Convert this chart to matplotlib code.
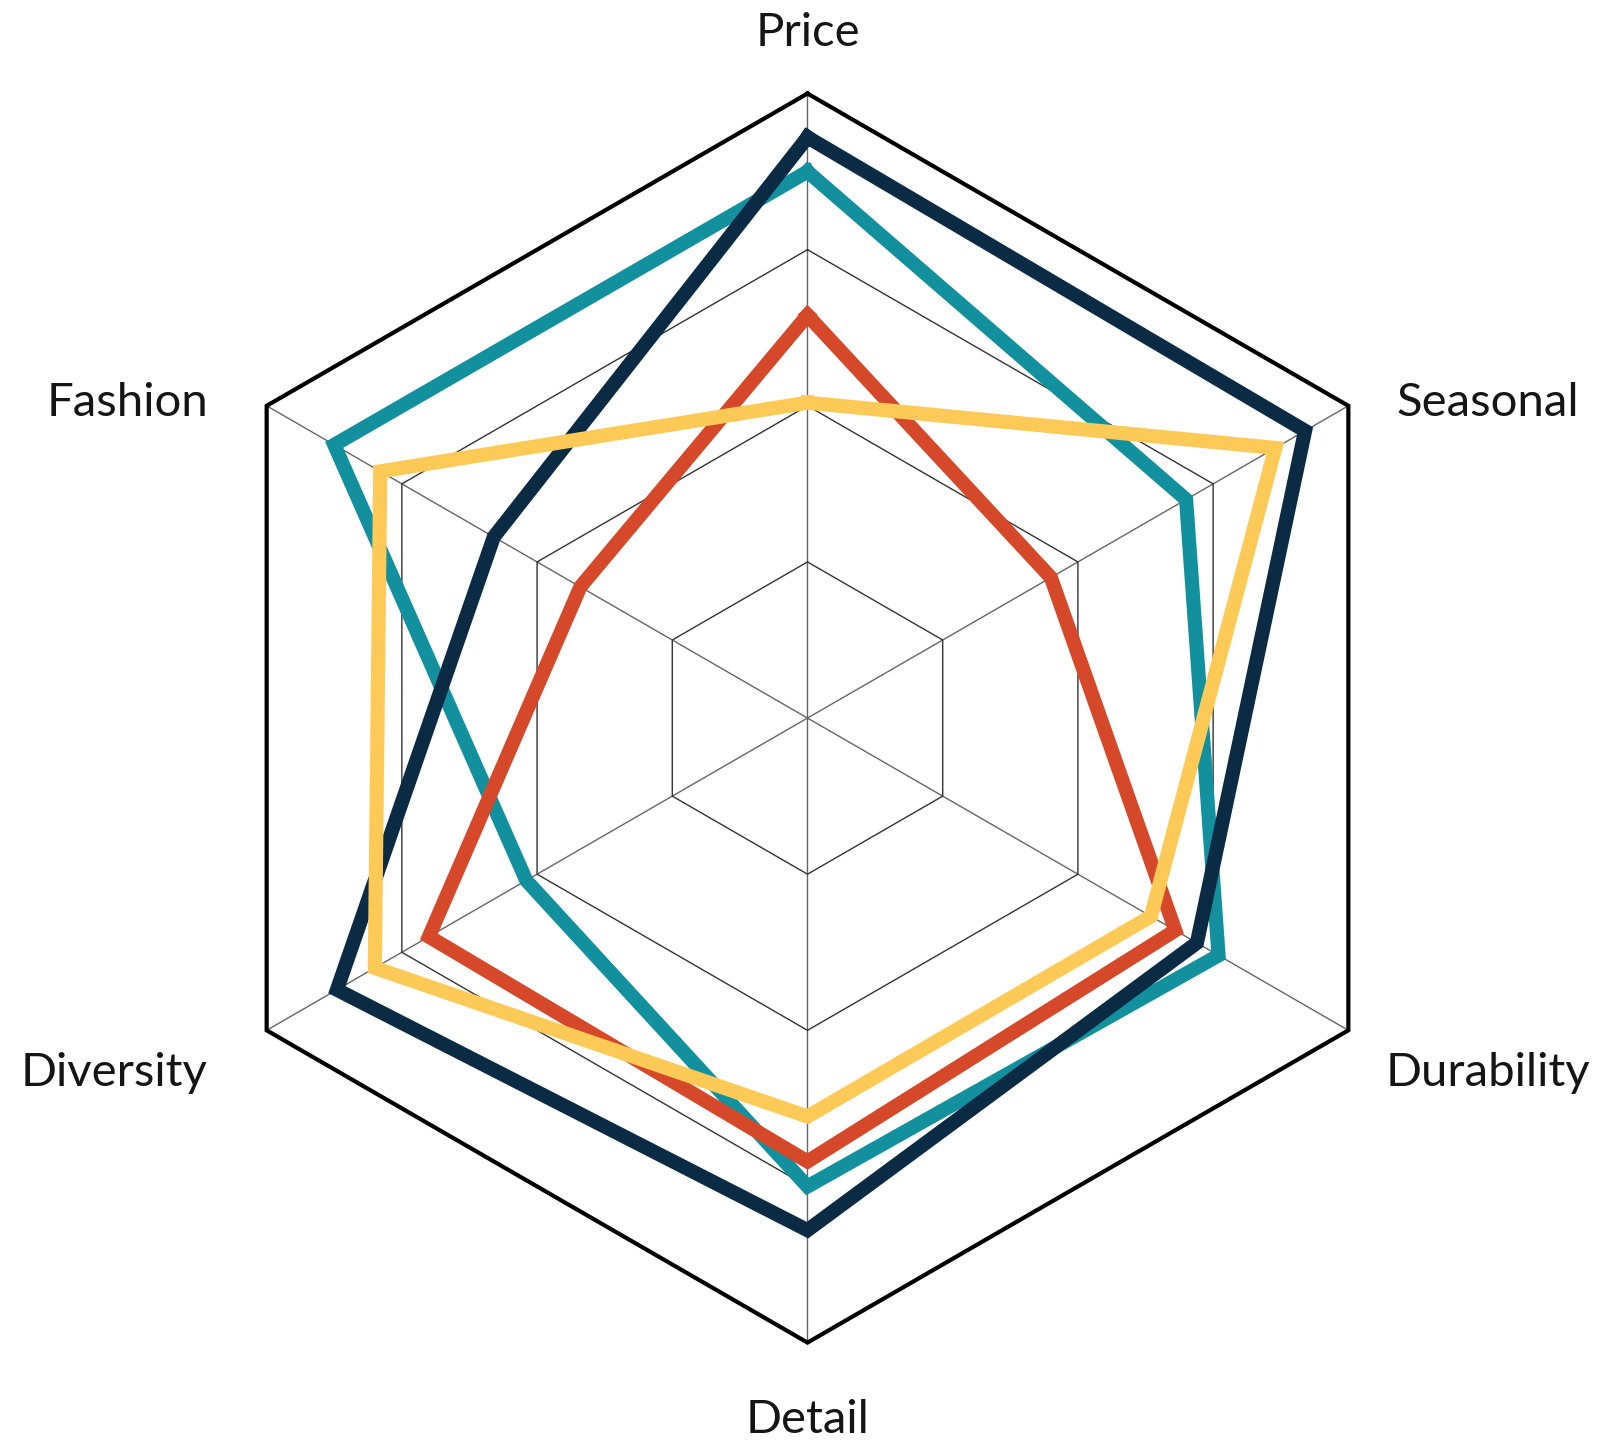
import numpy as np
import matplotlib
matplotlib.use("Agg")
import matplotlib.pyplot as plt

plt.rcParams['font.family'] = ['Lato', 'DejaVu Sans']

# categories clockwise from the top
labels = ['Price', 'Seasonal', 'Durability', 'Detail', 'Diversity', 'Fashion']

# series values (0..1)
navy = [0.93, 0.92, 0.72, 0.82, 0.87, 0.58]
teal = [0.875, 0.70, 0.76, 0.75, 0.52, 0.875]
red = [0.645, 0.45, 0.68, 0.71, 0.70, 0.42]
yellow = [0.505, 0.865, 0.635, 0.638, 0.80, 0.79]

rings = [0.25, 0.5, 0.75]

# label offsets from the outer vertex, in pixels
lab_off = [(0, 48), (139, -10), (140, -56), (0, -90), (-153, -56), (-139, -10)]

n = len(labels)
theta = np.linspace(0, 2*np.pi, n, endpoint=False)
theta_c = np.append(theta, theta[0])

fig = plt.figure(figsize=(16.15, 14.48), dpi=100)
ax = fig.add_axes([0.1133, 0.0728, 0.7734, 0.8626], projection='polar')
ax.set_theta_zero_location('N')
ax.set_theta_direction(-1)
ax.set_ylim(0, 1)
ax.axis('off')

# spokes
for t in theta:
    ax.plot([t, t], [0, 1], color='#666666', lw=1.0, zorder=1)
# inner rings
for r in rings:
    ax.plot(theta_c, [r]*(n+1), color='#333333', lw=1.0, zorder=1)
# outer ring
ax.plot(theta_c, [1.0]*(n+1), color='black', lw=3.0, zorder=2,
        solid_joinstyle='miter', clip_on=False)

def close(v):
    return list(v) + [v[0]]

for vals, col in [(teal, '#12909e'), (navy, '#0b2b45'), (red, '#d6482a'), (yellow, '#fdca58')]:
    ax.plot(theta_c, close(vals), color=col, lw=10.2, solid_joinstyle='miter',
            zorder=3, clip_on=False)

for t, lab, off in zip(theta, labels, lab_off):
    ax.annotate(lab, xy=(t, 1.0), xytext=off, textcoords='offset pixels',
                ha='center', va='baseline', fontsize=34, color='#151515')

fig.savefig('out.png', dpi=100, facecolor='white')
